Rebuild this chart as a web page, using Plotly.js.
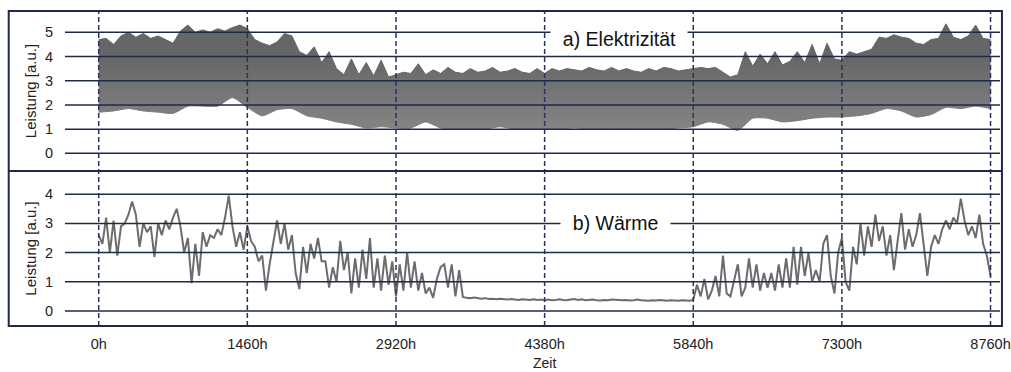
<!DOCTYPE html>
<html><head><meta charset="utf-8">
<script src="https://cdn.plot.ly/plotly-3.0.1.min.js"></script>
<style>html,body{margin:0;padding:0;background:#fff}#chart{width:1011px;height:372px}</style>
</head><body><div id="chart"></div>
<script>
// ---- data ----
const hourTicks = [0, 1460, 2920, 4380, 5840, 7300, 8760];
const hourTickLabels = ['0h', '1460h', '2920h', '4380h', '5840h', '7300h', '8760h'];
const elecTicks = [0, 1, 2, 3, 4, 5];
const heatTicks = [0, 1, 2, 3, 4];

// a) electricity: upper envelope of the hourly load, one value every 73 h
const elecUpperStep = 73;
const elecUpper = [
  4.7, 4.75, 4.5, 4.85, 5.0, 4.8, 4.95, 4.75, 4.85, 4.7,
  4.55, 5.05, 5.3, 5.0, 5.1, 5.0, 5.15, 5.05, 5.2, 5.3,
  5.15, 4.7, 4.55, 4.45, 4.6, 4.95, 4.85, 4.2, 4.05, 4.4,
  3.75, 4.2, 3.5, 3.25, 3.9, 3.25, 3.75, 3.2, 3.85, 3.15,
  3.25, 3.35, 3.3, 3.7, 3.25, 3.45, 3.3, 3.55, 3.35, 3.3,
  3.5, 3.35, 3.4, 3.55, 3.35, 3.4, 3.5, 3.35, 3.3, 3.5,
  3.3, 3.5, 3.4, 3.5, 3.45, 3.4, 3.55, 3.45, 3.4, 3.55,
  3.4, 3.5, 3.4, 3.35, 3.5, 3.4, 3.55, 3.5, 3.4, 3.45,
  3.5, 3.55, 3.5, 3.55, 3.35, 3.15, 3.25, 4.2, 3.6, 4.1,
  3.7, 4.2, 3.65, 3.8, 4.2, 3.75, 4.5, 3.7, 4.55, 3.9,
  3.85, 4.2, 4.1, 4.2, 4.3, 4.8, 4.75, 4.9, 4.8, 4.75,
  4.55, 4.5, 4.7, 4.75, 5.35, 4.8, 4.7, 4.85, 5.3, 4.75,
  4.7
];
// a) electricity: lower envelope, one value every 146 h
const elecLowerStep = 146;
const elecLower = [
  1.7, 1.75, 1.85, 1.75, 1.7, 1.65, 1.95, 1.95, 1.95, 2.3,
  1.9, 1.55, 1.8, 1.85, 1.55, 1.45, 1.3, 1.2, 1.05, 1.1,
  1.05, 1.05, 1.3, 1.05, 1.0, 1.0, 1.0, 1.1, 1.0, 1.0,
  1.0, 1.0, 1.05, 1.0, 1.0, 1.0, 1.0, 1.0, 1.0, 1.05,
  1.1, 1.3, 1.2, 0.95, 1.45, 1.45, 1.3, 1.35, 1.45, 1.5,
  1.5, 1.55, 1.65, 1.85, 1.75, 1.5, 1.6, 1.9, 1.85, 1.95,
  1.85
];
// b) heat: one value every 36.5 h
const heatStep = 36.5;
const heat = [
  2.6, 2.3, 3.2, 2.0, 3.1, 1.9, 2.9, 3.0, 3.3, 3.75,
  3.3, 2.2, 3.0, 2.7, 2.9, 1.85, 3.0, 2.6, 3.1, 2.8,
  3.2, 3.5, 2.9, 2.0, 2.5, 0.95, 2.3, 1.2, 2.7, 2.2,
  2.6, 2.5, 2.8, 2.6, 3.2, 3.95, 2.9, 2.2, 2.7, 2.1,
  2.9,
  2.4, 2.2, 1.7, 1.9, 0.7, 1.6, 2.4, 3.1, 2.3, 3.0,
  2.1, 2.6, 1.3, 0.75, 2.2, 1.3, 2.3, 1.8, 2.5, 1.7,
  1.7, 0.8, 1.5, 1.0, 2.4, 1.4, 2.0, 0.6, 1.8, 0.8,
  2.1, 1.1, 2.5, 0.8, 1.8, 0.7, 1.9, 0.9, 1.7, 0.5,
  1.6, 0.7, 2.0, 0.8, 1.7, 0.7, 1.3, 0.6, 0.8, 0.45,
  1.1, 1.5, 1.6, 0.8, 1.6, 0.5, 1.4, 0.48,
  0.45, 0.44, 0.46, 0.43, 0.42, 0.44, 0.41, 0.42, 0.40, 0.42,
  0.41, 0.39, 0.41, 0.40, 0.38, 0.40, 0.39, 0.38, 0.40, 0.38,
  0.39, 0.37,
  0.39, 0.37, 0.38, 0.40, 0.38, 0.37, 0.39, 0.41, 0.38, 0.40,
  0.37, 0.38, 0.39, 0.37, 0.36, 0.38, 0.37, 0.39, 0.38, 0.36,
  0.37, 0.38, 0.36, 0.37, 0.39, 0.37, 0.36, 0.35, 0.37, 0.36,
  0.38, 0.36, 0.35, 0.37, 0.36, 0.35, 0.37, 0.36, 0.35, 0.38,
  0.9, 0.5, 1.1, 0.4, 0.7, 1.2, 0.5, 1.9, 0.6, 0.5,
  1.0, 1.6, 0.5, 0.8, 1.8, 0.8, 1.6, 0.7, 1.3, 0.8,
  1.3,
  0.7, 1.6, 0.8, 1.8, 0.8, 2.2, 0.9, 2.2, 1.2, 2.0,
  1.0, 1.4, 1.0, 2.3, 2.6, 1.2, 0.6, 2.0, 2.5, 1.0,
  0.7, 2.2, 1.6, 3.0, 1.9, 2.9, 2.2, 3.3, 2.4, 2.9,
  1.9, 2.6, 1.4, 2.4, 3.35, 2.1, 2.8, 2.2, 2.6, 3.35,
  2.3, 1.2, 2.2, 2.6, 2.3, 2.8, 3.1, 2.8, 3.2, 3.0,
  3.85, 3.1, 2.6, 2.9, 2.5, 3.3, 2.3, 1.9, 1.2
];
const panelLabels = ['a) Elektrizität', 'b) Wärme'];
const yTitle = 'Leistung [a.u.]';
const xTitle = 'Zeit';

// ---- drawing ----
const NAVY = '#1d2a4c';
const GREY = '#6e6e6e';
const FONT = 'Liberation Sans, Arial, sans-serif';
const hoursOf = (arr, step) => arr.map((_, i) => i * step);

const traces = [
  { x: hoursOf(elecLower, elecLowerStep), y: elecLower, xaxis: 'x', yaxis: 'y',
    mode: 'lines', line: { color: '#7c7c7c', width: 1, shape: 'spline', smoothing: 0.6 },
    hoverinfo: 'skip', showlegend: false },
  { x: hoursOf(elecUpper, elecUpperStep), y: elecUpper, xaxis: 'x', yaxis: 'y',
    mode: 'lines', line: { color: '#666666', width: 1 },
    fill: 'tonexty', fillcolor: GREY,
    fillgradient: { type: 'vertical', start: 1.0, stop: 4.0,
      colorscale: [[0, '#848484'], [0.45, '#777777'], [1, '#666666']] },
    hoverinfo: 'skip', showlegend: false },
  { x: hoursOf(heat, heatStep), y: heat, xaxis: 'x2', yaxis: 'y2',
    mode: 'lines', line: { color: '#6c6c6c', width: 2 },
    hoverinfo: 'skip', showlegend: false }
];

const splitY = 0.492;
const shapes = [];
elecTicks.forEach(v => shapes.push({ type: 'line', layer: 'above', xref: 'paper', x0: 0, x1: 1,
  yref: 'y', y0: v, y1: v, line: { color: NAVY, width: 1.5 } }));
heatTicks.forEach(v => shapes.push({ type: 'line', layer: 'above', xref: 'paper', x0: 0, x1: 1,
  yref: 'y2', y0: v, y1: v, line: { color: NAVY, width: 1.5 } }));
hourTicks.forEach(h => shapes.push({ type: 'line', layer: 'above', xref: 'x', x0: h, x1: h,
  yref: 'paper', y0: 0, y1: 1, line: { color: '#25345a', width: 1.5, dash: '5px,3px' } }));
shapes.push({ type: 'rect', layer: 'above', xref: 'paper', x0: -0.0602, x1: 1.0021,
  yref: 'paper', y0: 0, y1: 1, line: { color: NAVY, width: 2 } });
shapes.push({ type: 'line', layer: 'above', xref: 'paper', x0: -0.0602, x1: 1.0021,
  yref: 'paper', y0: splitY, y1: splitY, line: { color: NAVY, width: 2 } });

const tickFont = { family: FONT, size: 14.5, color: '#222' };
const titleFont = { family: FONT, size: 15, color: '#222' };
const xRange = [-331, 8853];

const layout = {
  width: 1011, height: 372,
  margin: { l: 65, r: 11, t: 11, b: 46 },
  paper_bgcolor: '#fff', plot_bgcolor: '#fff',
  showlegend: false,
  xaxis: { domain: [0, 1], anchor: 'y', range: xRange, showgrid: false, zeroline: false,
    showline: false, showticklabels: false, ticks: '' },
  xaxis2: { domain: [0, 1], anchor: 'y2', range: xRange, showgrid: false, zeroline: false,
    showline: false, tickmode: 'array', tickvals: hourTicks, ticktext: hourTickLabels,
    ticks: 'outside', ticklen: 5, tickcolor: 'rgba(0,0,0,0)', tickfont: tickFont },
  yaxis: { domain: [splitY, 1], anchor: 'x', range: [-0.73, 5.88], showgrid: false,
    zeroline: false, showline: false, tickmode: 'array', tickvals: elecTicks,
    ticks: 'outside', ticklen: 8, tickcolor: 'rgba(0,0,0,0)', tickfont: tickFont,
    title: { text: yTitle, font: titleFont, standoff: 4 } },
  yaxis2: { domain: [0, splitY], anchor: 'x2', range: [-0.514, 4.795], showgrid: false,
    zeroline: false, showline: false, tickmode: 'array', tickvals: heatTicks,
    ticks: 'outside', ticklen: 8, tickcolor: 'rgba(0,0,0,0)', tickfont: tickFont,
    title: { text: yTitle, font: titleFont, standoff: 4 } },
  shapes: shapes,
  annotations: [
    { text: '\u00a0\u00a0' + panelLabels[0] + '\u00a0\u00a0', xref: 'paper', x: 0.5925,
      yref: 'y', y: 4.74, xanchor: 'center', yanchor: 'middle', showarrow: false,
      bgcolor: '#fff', borderpad: 1, font: { family: FONT, size: 19.5, color: '#111' } },
    { text: '\u00a0\u00a0' + panelLabels[1] + '\u00a0\u00a0', xref: 'paper', x: 0.5888,
      yref: 'y2', y: 3, xanchor: 'center', yanchor: 'middle', showarrow: false,
      bgcolor: '#fff', borderpad: 1, font: { family: FONT, size: 19.5, color: '#111' } },
    { text: xTitle, xref: 'x2', x: hourTicks[3], yref: 'paper', y: -0.119,
      xanchor: 'center', yanchor: 'middle', showarrow: false,
      font: { family: FONT, size: 14, color: '#222' } }
  ]
};

Plotly.newPlot('chart', traces, layout, { staticPlot: true, displayModeBar: false });
</script>
</body></html>
